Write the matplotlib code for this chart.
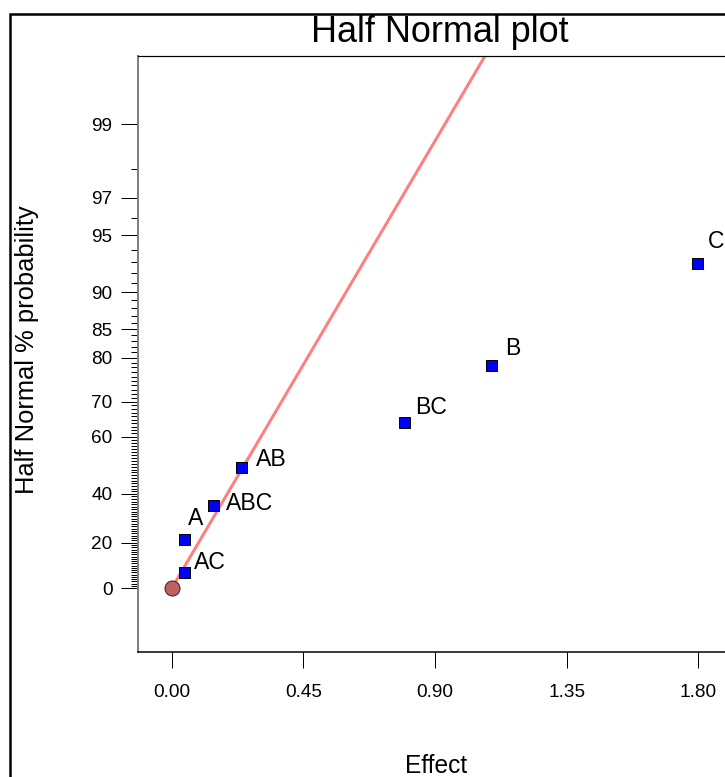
import numpy as np
import matplotlib
matplotlib.use("Agg")
from matplotlib import pyplot as plt, patches
from statistics import NormalDist

# effects
terms = ["AC", "A", "ABC", "AB", "BC", "B", "C"]
effects = [0.043, 0.043, 0.142, 0.237, 0.795, 1.093, 1.797]
probs = [7.1, 21.4, 35.7, 50.0, 64.3, 78.6, 92.9]   # half normal % probability

origin_effect = 0.0
origin_prob = 0.0
line_slope = 2.76          # z per unit effect of the reference line

major_probs = [0, 20, 40, 60, 70, 80, 85, 90, 95, 97, 99]
minor_probs = [p for p in range(1, 99) if p not in major_probs]
x_ticks = [0.00, 0.45, 0.90, 1.35, 1.80]

# label offsets in pixels (dx to left edge, dy up)
label_off = {"AC": (10, 10), "A": (4, 21), "ABC": (13, 1), "AB": (15, 7),
             "BC": (11, 15), "B": (14, 16), "C": (11, 22)}


def hn(p):
    # half normal score for a percentage
    return NormalDist().inv_cdf(0.5 + p / 200.0)


plt.rcParams["font.family"] = ["Liberation Sans", "DejaVu Sans"]

W, H = 725, 777
fig = plt.figure(figsize=(W / 72, H / 72), dpi=72)

# outer frame (runs off the right and bottom edges)
fig.patches.append(patches.Rectangle((10 / W, -0.5), 2, 1.5 - 14 / H, transform=fig.transFigure,
                                     fill=False, edgecolor="black", linewidth=2.5))

left, right, top, bottom = 137.5, 757.6, 56, 652
ax = fig.add_axes([left / W, 1 - bottom / H, (right - left) / W, (bottom - top) / H])

ax.set_xlim(-0.117, 2.003)
ax.set_ylim(-0.354, 2.956)

xs = np.array([origin_effect, 1.3])
ax.plot(xs, line_slope * xs, color="#ff7f7f", linewidth=3, zorder=2)

z = [hn(p) for p in probs]
ax.plot(effects, z, linestyle="none", marker="s", markersize=11,
        markerfacecolor="#0000ff", markeredgecolor="black", markeredgewidth=1, zorder=3)
ax.plot([origin_effect], [hn(origin_prob)], linestyle="none", marker="o", markersize=15,
        markerfacecolor="#c06060", markeredgecolor="#3a2020", markeredgewidth=1, zorder=3)

for t, x, y in zip(terms, effects, z):
    dx, dy = label_off[t]
    ax.annotate(t, (x, y), xytext=(dx, dy), textcoords="offset points",
                ha="left", va="center", fontsize=23, zorder=4)

ax.set_yticks([hn(p) for p in major_probs])
ax.set_yticklabels([str(p) for p in major_probs])
ax.set_yticks([hn(p) for p in minor_probs], minor=True)
ax.set_xticks(x_ticks)
ax.set_xticklabels(["%.2f" % v for v in x_ticks])

ax.tick_params(axis="y", which="major", length=17, width=1, pad=8, labelsize=19)
ax.tick_params(axis="y", which="minor", length=7, width=1)
ax.tick_params(axis="x", which="major", length=16, width=1, pad=16, labelsize=19)

ax.spines["left"].set_color("#808080")
ax.spines["left"].set_linewidth(2)
ax.spines["top"].set_linewidth(1.2)
ax.spines["bottom"].set_linewidth(1.5)
ax.spines["right"].set_visible(False)

fig.text(440 / W, 1 - 33 / H, "Half Normal plot", ha="center", va="center", fontsize=36)
fig.text(436 / W, 1 - 766 / H, "Effect", ha="center", va="center", fontsize=24.5)
fig.text(27 / W, 1 - 350 / H, "Half Normal % probability", ha="center", va="center",
         rotation=90, fontsize=25.5)

fig.savefig("out.png", dpi=72)
